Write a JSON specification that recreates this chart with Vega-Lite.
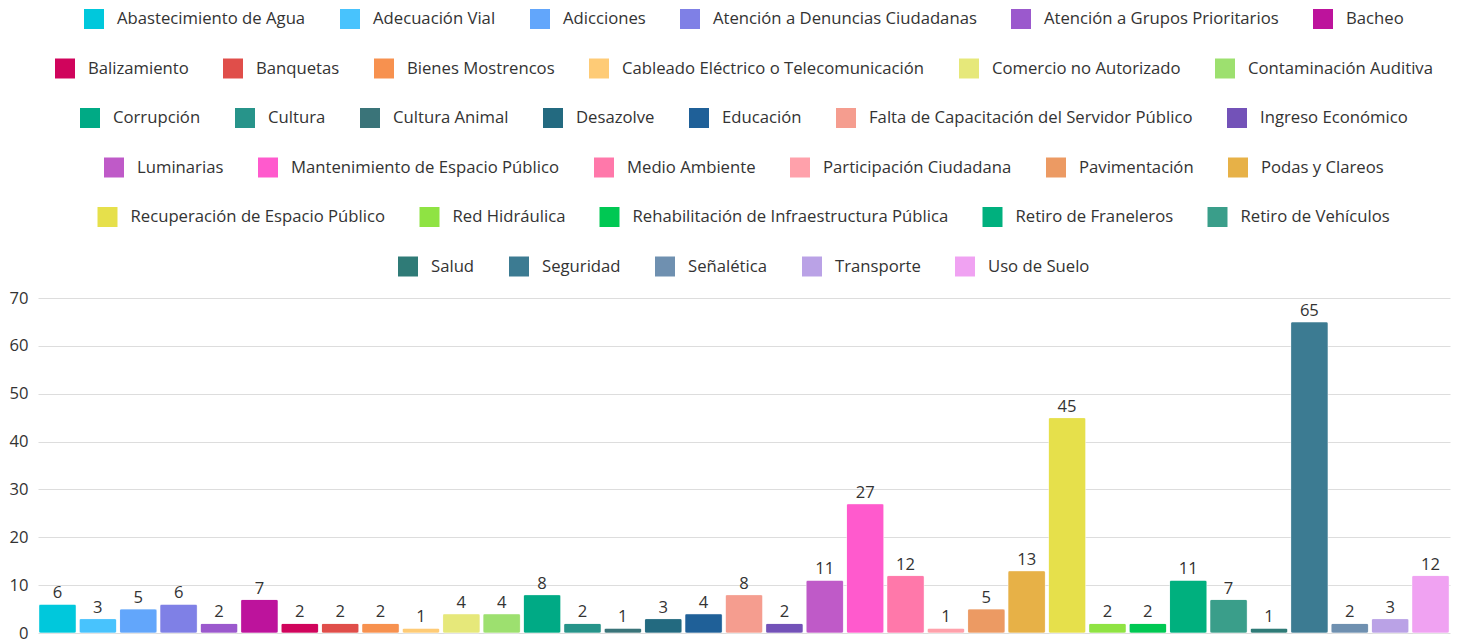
{
  "$schema": "https://vega.github.io/schema/vega-lite/v6.json",
  "width": 1457,
  "height": 639,
  "autosize": {"type": "fit", "contains": "padding"},
  "padding": {"top": 9, "left": 9, "right": 7, "bottom": -3},
  "background": "white",
  "data": {"values": [
    {"categoria": "Abastecimiento de Agua", "total": 6},
    {"categoria": "Adecuación Vial", "total": 3},
    {"categoria": "Adicciones", "total": 5},
    {"categoria": "Atención a Denuncias Ciudadanas", "total": 6},
    {"categoria": "Atención a Grupos Prioritarios", "total": 2},
    {"categoria": "Bacheo", "total": 7},
    {"categoria": "Balizamiento", "total": 2},
    {"categoria": "Banquetas", "total": 2},
    {"categoria": "Bienes Mostrencos", "total": 2},
    {"categoria": "Cableado Eléctrico o Telecomunicación", "total": 1},
    {"categoria": "Comercio no Autorizado", "total": 4},
    {"categoria": "Contaminación Auditiva", "total": 4},
    {"categoria": "Corrupción", "total": 8},
    {"categoria": "Cultura", "total": 2},
    {"categoria": "Cultura Animal", "total": 1},
    {"categoria": "Desazolve", "total": 3},
    {"categoria": "Educación", "total": 4},
    {"categoria": "Falta de Capacitación del Servidor Público", "total": 8},
    {"categoria": "Ingreso Económico", "total": 2},
    {"categoria": "Luminarias", "total": 11},
    {"categoria": "Mantenimiento de Espacio Público", "total": 27},
    {"categoria": "Medio Ambiente", "total": 12},
    {"categoria": "Participación Ciudadana", "total": 1},
    {"categoria": "Pavimentación", "total": 5},
    {"categoria": "Podas y Clareos", "total": 13},
    {"categoria": "Recuperación de Espacio Público", "total": 45},
    {"categoria": "Red Hidráulica", "total": 2},
    {"categoria": "Rehabilitación de Infraestructura Pública", "total": 2},
    {"categoria": "Retiro de Franeleros", "total": 11},
    {"categoria": "Retiro de Vehículos", "total": 7},
    {"categoria": "Salud", "total": 1},
    {"categoria": "Seguridad", "total": 65},
    {"categoria": "Señalética", "total": 2},
    {"categoria": "Transporte", "total": 3},
    {"categoria": "Uso de Suelo", "total": 12}
  ]},
  "encoding": {
    "x": {
      "field": "categoria", "type": "nominal", "sort": null,
      "scale": {"paddingInner": 0.075, "paddingOuter": 0.02,
        "domain": ["Abastecimiento de Agua","Adecuación Vial","Adicciones","Atención a Denuncias Ciudadanas","Atención a Grupos Prioritarios","Bacheo","Balizamiento","Banquetas","Bienes Mostrencos","Cableado Eléctrico o Telecomunicación","Comercio no Autorizado","Contaminación Auditiva","Corrupción","Cultura","Cultura Animal","Desazolve","Educación","Falta de Capacitación del Servidor Público","Ingreso Económico","Luminarias","Mantenimiento de Espacio Público","Medio Ambiente","Participación Ciudadana","Pavimentación","Podas y Clareos","Recuperación de Espacio Público","Red Hidráulica","Rehabilitación de Infraestructura Pública","Retiro de Franeleros","Retiro de Vehículos","Salud","Seguridad","Señalética","Transporte","Uso de Suelo"]},
      "axis": null
    },
    "y": {
      "field": "total", "type": "quantitative",
      "scale": {"domain": [0, 70], "nice": false},
      "axis": {"title": null, "values": [0,10,20,30,40,50,60,70], "domain": false, "ticks": false, "labelPadding": 10, "labelFontSize": 16.6, "labelColor": "#333333", "labelFont": "Open Sans", "gridColor": "#dddddd", "gridWidth": 1.2}
    }
  },
  "layer": [
    {
      "transform": [{"filter": {"field": "categoria", "oneOf": ["Abastecimiento de Agua","Adecuación Vial","Adicciones","Atención a Denuncias Ciudadanas","Atención a Grupos Prioritarios","Bacheo"]}}],
      "mark": {"type": "bar", "cornerRadius": 2, "strokeWidth": 1, "strokeOpacity": 0.35, "stroke": "white"},
      "encoding": {"color": {"field": "categoria", "type": "nominal",
        "scale": {"domain": ["Abastecimiento de Agua","Adecuación Vial","Adicciones","Atención a Denuncias Ciudadanas","Atención a Grupos Prioritarios","Bacheo"],
                  "range": ["#00c8dc","#48c3fd","#62a6fb","#7f80e6","#9b59cd","#bd139c"]},
        "legend": {"columns": 6}}}
    },
    {
      "transform": [{"filter": {"field": "categoria", "oneOf": ["Balizamiento","Banquetas","Bienes Mostrencos","Cableado Eléctrico o Telecomunicación","Comercio no Autorizado","Contaminación Auditiva"]}}],
      "mark": {"type": "bar", "cornerRadius": 2, "strokeWidth": 1, "strokeOpacity": 0.35, "stroke": "white"},
      "encoding": {"color": {"field": "categoria", "type": "nominal",
        "scale": {"domain": ["Balizamiento","Banquetas","Bienes Mostrencos","Cableado Eléctrico o Telecomunicación","Comercio no Autorizado","Contaminación Auditiva"],
                  "range": ["#d0045c","#e04e4a","#f7914f","#fecb76","#e6e87a","#9de06f"]},
        "legend": {"columns": 6}}}
    },
    {
      "transform": [{"filter": {"field": "categoria", "oneOf": ["Corrupción","Cultura","Cultura Animal","Desazolve","Educación","Falta de Capacitación del Servidor Público","Ingreso Económico"]}}],
      "mark": {"type": "bar", "cornerRadius": 2, "strokeWidth": 1, "strokeOpacity": 0.35, "stroke": "white"},
      "encoding": {"color": {"field": "categoria", "type": "nominal",
        "scale": {"domain": ["Corrupción","Cultura","Cultura Animal","Desazolve","Educación","Falta de Capacitación del Servidor Público","Ingreso Económico"],
                  "range": ["#00aa85","#27948a","#3a7479","#236a80","#1f6098","#f59d8f","#7352b8"]},
        "legend": {"columns": 7}}}
    },
    {
      "transform": [{"filter": {"field": "categoria", "oneOf": ["Luminarias","Mantenimiento de Espacio Público","Medio Ambiente","Participación Ciudadana","Pavimentación","Podas y Clareos"]}}],
      "mark": {"type": "bar", "cornerRadius": 2, "strokeWidth": 1, "strokeOpacity": 0.35, "stroke": "white"},
      "encoding": {"color": {"field": "categoria", "type": "nominal",
        "scale": {"domain": ["Luminarias","Mantenimiento de Espacio Público","Medio Ambiente","Participación Ciudadana","Pavimentación","Podas y Clareos"],
                  "range": ["#bf5ac8","#ff5acd","#ff78aa","#ffa1ab","#ec9a63","#e7b147"]},
        "legend": {"columns": 6}}}
    },
    {
      "transform": [{"filter": {"field": "categoria", "oneOf": ["Recuperación de Espacio Público","Red Hidráulica","Rehabilitación de Infraestructura Pública","Retiro de Franeleros","Retiro de Vehículos"]}}],
      "mark": {"type": "bar", "cornerRadius": 2, "strokeWidth": 1, "strokeOpacity": 0.35, "stroke": "white"},
      "encoding": {"color": {"field": "categoria", "type": "nominal",
        "scale": {"domain": ["Recuperación de Espacio Público","Red Hidráulica","Rehabilitación de Infraestructura Pública","Retiro de Franeleros","Retiro de Vehículos"],
                  "range": ["#e6e04b","#8fe343","#00c853","#00b07e","#3a9e8a"]},
        "legend": {"columns": 5}}}
    },
    {
      "transform": [{"filter": {"field": "categoria", "oneOf": ["Salud","Seguridad","Señalética","Transporte","Uso de Suelo"]}}],
      "mark": {"type": "bar", "cornerRadius": 2, "strokeWidth": 1, "strokeOpacity": 0.35, "stroke": "white"},
      "encoding": {"color": {"field": "categoria", "type": "nominal",
        "scale": {"domain": ["Salud","Seguridad","Señalética","Transporte","Uso de Suelo"],
                  "range": ["#2f7b77","#3c7b92","#6f90b0","#baa2e6","#f0a2f2"]},
        "legend": {"columns": 5}}}
    },
    {
      "mark": {"type": "text", "baseline": "bottom", "dy": -3, "fontSize": 16.6, "font": "Open Sans", "color": "#333333"},
      "encoding": {"text": {"field": "total", "type": "quantitative"}}
    }
  ],
  "resolve": {"scale": {"color": "independent"}, "legend": {"color": "independent"}},
  "config": {
    "view": {"stroke": null},
    "legend": {
      "orient": "top",
      "direction": "horizontal",
      "title": null,
      "symbolType": "square",
      "symbolSize": 400,
      "symbolStrokeWidth": 0,
      "labelFont": "Open Sans",
      "labelFontSize": 16.7,
      "labelColor": "#333333",
      "labelLimit": 0,
      "labelOffset": 13,
      "columnPadding": 34,
      "padding": 0,
      "offset": 22,
      "layout": {"top": {"anchor": "middle", "direction": "vertical", "center": true, "margin": 29.5}}
    }
  }
}
